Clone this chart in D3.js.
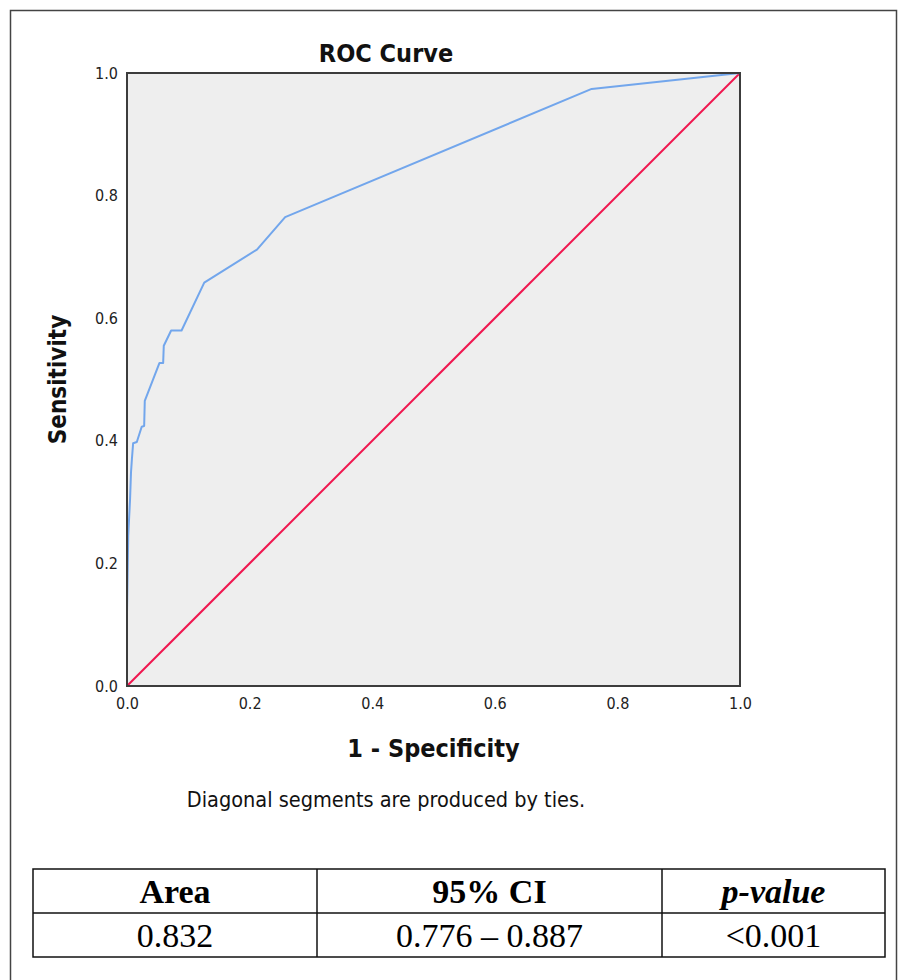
<!DOCTYPE html>
<html>
<head>
<meta charset="utf-8">
<script src="https://cdn.jsdelivr.net/npm/d3@7"></script>
<style>
  body { margin: 0; background: #ffffff; }
  svg { display: block; }
</style>
</head>
<body>
<div id="chart"></div>
<script>
"use strict";

// ROC points (1 - specificity, sensitivity)
var fpr = [0, 0, 0.002, 0.005, 0.0065, 0.008, 0.010, 0.016, 0.024, 0.028, 0.029, 0.053, 0.059, 0.060, 0.072, 0.089, 0.126, 0.212, 0.258, 0.758, 1];
var tpr = [0, 0.12, 0.245, 0.305, 0.348, 0.370, 0.396, 0.398, 0.423, 0.424, 0.465, 0.527, 0.527, 0.555, 0.580, 0.580, 0.658, 0.712, 0.765, 0.974, 1];
var refLine = [0, 1];
var tickValues = [0, 0.2, 0.4, 0.6, 0.8, 1.0];

var tableHeader = ["Area", "95% CI", "p-value"];
var tableRow = ["0.832", "0.776 \u2013 0.887", "<0.001"];

function drawRoc(selector, width, height) {
  var chartFont = "'DejaVu Sans Condensed', 'DejaVu Sans', sans-serif";
  var tableFont = "'Liberation Serif', 'Times New Roman', serif";
  var curveColor = "#72a6ec";
  var diagColor = "#f0164f";
  var frameColor = "#444444";

  var plot = { left: 127, right: 740, top: 73, bottom: 686 };

  var svg = d3.select(selector)
    .append("svg")
    .attr("width", width)
    .attr("height", height);

  // outer frame (bottom runs off the picture)
  svg.append("path")
    .attr("d", "M10.5," + (height + 5) + "V10.5H896.5V" + (height + 5))
    .attr("fill", "none")
    .attr("stroke", frameColor)
    .attr("stroke-width", 1.5);

  var x = d3.scaleLinear().domain([0, 1]).range([plot.left, plot.right]);
  var y = d3.scaleLinear().domain([0, 1]).range([plot.bottom, plot.top]);

  svg.append("rect")
    .attr("x", plot.left)
    .attr("y", plot.top)
    .attr("width", plot.right - plot.left)
    .attr("height", plot.bottom - plot.top)
    .attr("fill", "#eeeeee");

  // diagonal reference line
  svg.append("line")
    .attr("x1", x(refLine[0]))
    .attr("y1", y(refLine[0]))
    .attr("x2", x(refLine[1]))
    .attr("y2", y(refLine[1]))
    .attr("stroke", diagColor)
    .attr("stroke-width", 2);

  var points = fpr.map(function(d, i) {
    return [d, tpr[i]];
  });

  var line = d3.line()
    .x(function(d) { return x(d[0]); })
    .y(function(d) { return y(d[1]); });

  svg.append("path")
    .datum(points)
    .attr("d", line)
    .attr("fill", "none")
    .attr("stroke", curveColor)
    .attr("stroke-width", 2)
    .attr("stroke-linejoin", "round");

  svg.append("rect")
    .attr("x", plot.left)
    .attr("y", plot.top)
    .attr("width", plot.right - plot.left)
    .attr("height", plot.bottom - plot.top)
    .attr("fill", "none")
    .attr("stroke", "#3c3c3c")
    .attr("stroke-width", 2);

  // axes: labels only, no tick marks
  var xAxis = svg.append("g")
    .attr("transform", "translate(0," + plot.bottom + ")")
    .call(d3.axisBottom(x).tickValues(tickValues).tickFormat(d3.format(".1f")).tickSize(0).tickPadding(12));
  var yAxis = svg.append("g")
    .attr("transform", "translate(" + plot.left + ",0)")
    .call(d3.axisLeft(y).tickValues(tickValues).tickFormat(d3.format(".1f")).tickSize(0).tickPadding(9));

  [xAxis, yAxis].forEach(function(axis) {
    axis.select(".domain").remove();
    axis.selectAll("text")
      .attr("font-family", chartFont)
      .attr("font-size", 16)
      .attr("fill", "#222222");
  });

  svg.append("text")
    .attr("x", 386)
    .attr("y", 62)
    .attr("text-anchor", "middle")
    .attr("font-family", chartFont)
    .attr("font-weight", "bold")
    .attr("font-size", 25)
    .attr("fill", "#111111")
    .text("ROC Curve");

  svg.append("text")
    .attr("x", (plot.left + plot.right) / 2)
    .attr("y", 757)
    .attr("text-anchor", "middle")
    .attr("font-family", chartFont)
    .attr("font-weight", "bold")
    .attr("font-size", 25)
    .attr("fill", "#111111")
    .text("1 - Specificity");

  svg.append("text")
    .attr("transform", "translate(66," + (plot.top + plot.bottom) / 2 + ") rotate(-90)")
    .attr("text-anchor", "middle")
    .attr("font-family", chartFont)
    .attr("font-weight", "bold")
    .attr("font-size", 24)
    .attr("fill", "#111111")
    .text("Sensitivity");

  svg.append("text")
    .attr("x", 386)
    .attr("y", 807)
    .attr("text-anchor", "middle")
    .attr("font-family", chartFont)
    .attr("font-size", 21.5)
    .attr("fill", "#111111")
    .text("Diagonal segments are produced by ties.");

  // summary table under the chart
  var colEdges = [33, 317, 662, 885];
  var rowEdges = [869, 913, 957];

  var table = svg.append("g");
  table.append("rect")
    .attr("x", colEdges[0])
    .attr("y", rowEdges[0])
    .attr("width", colEdges[3] - colEdges[0])
    .attr("height", rowEdges[2] - rowEdges[0])
    .attr("fill", "none")
    .attr("stroke", "#111111")
    .attr("stroke-width", 1.5);
  table.append("line")
    .attr("x1", colEdges[0]).attr("x2", colEdges[3])
    .attr("y1", rowEdges[1]).attr("y2", rowEdges[1])
    .attr("stroke", "#111111").attr("stroke-width", 1.5);
  table.selectAll("line.col")
    .data(colEdges.slice(1, 3))
    .enter()
    .append("line")
      .attr("class", "col")
      .attr("x1", function(d) { return d; })
      .attr("x2", function(d) { return d; })
      .attr("y1", rowEdges[0])
      .attr("y2", rowEdges[2])
      .attr("stroke", "#111111")
      .attr("stroke-width", 1.5);

  function cellX(i) {
    return (colEdges[i] + colEdges[i + 1]) / 2;
  }

  table.selectAll("text.head")
    .data(tableHeader)
    .enter()
    .append("text")
      .attr("class", "head")
      .attr("x", function(d, i) { return cellX(i); })
      .attr("y", 903)
      .attr("text-anchor", "middle")
      .attr("font-family", tableFont)
      .attr("font-size", 34)
      .attr("font-weight", "bold")
      .attr("font-style", function(d, i) { return i === 2 ? "italic" : "normal"; })
      .attr("fill", "#000000")
      .text(function(d) { return d; });

  table.selectAll("text.cell")
    .data(tableRow)
    .enter()
    .append("text")
      .attr("class", "cell")
      .attr("x", function(d, i) { return cellX(i); })
      .attr("y", 947)
      .attr("text-anchor", "middle")
      .attr("font-family", tableFont)
      .attr("font-size", 34)
      .attr("fill", "#000000")
      .text(function(d) { return d; });
}

drawRoc("#chart", 898, 980);
</script>
</body>
</html>
